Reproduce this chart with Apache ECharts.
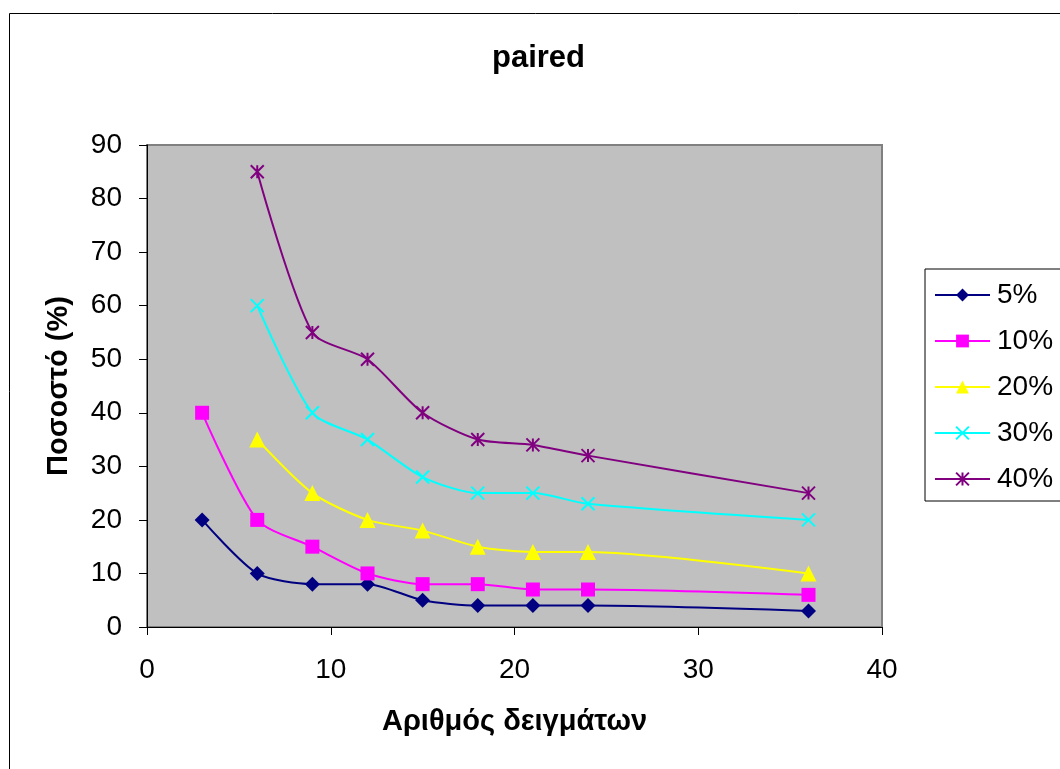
<!DOCTYPE html>
<html>
<head>
<meta charset="utf-8">
<script src="https://cdn.jsdelivr.net/npm/echarts@6/dist/echarts.min.js"></script>
<style>
  html, body { margin: 0; padding: 0; background: #fff; }
  #chart { width: 1060px; height: 769px; }
</style>
</head>
<body>
<div id="chart"></div>
<script>
// Αριθμός δειγμάτων (x)
const sampleSizes = [3, 6, 9, 12, 15, 18, 21, 24, 36];
const seriesNames = ['5%', '10%', '20%', '30%', '40%'];
const values5 = [20, 10, 8, 8, 5, 4, 4, 4, 3];
const values10 = [40, 20, 15, 10, 8, 8, 7, 7, 6];
const values20 = [null, 35, 25, 20, 18, 15, 14, 14, 10];
const values30 = [null, 60, 40, 35, 28, 25, 25, 23, 20];
const values40 = [null, 85, 55, 50, 40, 35, 34, 32, 25];

const FONT = '"Liberation Sans", Arial, sans-serif';

const chart = echarts.init(document.getElementById('chart'), null, { renderer: 'canvas' });

// ζεύγη [x, y], χωρίς κενά
const pairs = vals => sampleSizes.map((x, i) => [x, vals[i]]).filter(p => p[1] != null);

const crossPath = 'path://M0 0L10 10M10 0L0 10';
const starPath = 'path://M0 0L10 10M10 0L0 10M5 0L5 10';

const makeSeries = (name, vals, color, symbol, size, hollow) => ({
  name,
  type: 'line',
  data: pairs(vals),
  smooth: 0.25,
  symbol,
  symbolSize: size,
  showAllSymbol: true,
  lineStyle: { color, width: 2 },
  itemStyle: hollow
    ? { color: 'rgba(0,0,0,0)', borderColor: color, borderWidth: 2 }
    : { color, borderColor: color, borderWidth: 0 },
  emphasis: { disabled: true },
  z: 3
});

const option = {
  animation: false,
  textStyle: { fontFamily: FONT },
  graphic: [{
    type: 'rect',
    shape: { x: 9.5, y: 13.5, width: 1057, height: 800 },
    style: { fill: 'none', stroke: '#000', lineWidth: 1 },
    z: -10
  }],
  title: {
    text: 'paired',
    left: 487,
    top: 38,
    textStyle: { fontFamily: FONT, fontSize: 31, fontWeight: 'bold', color: '#000' }
  },
  grid: {
    left: 147, top: 145, width: 735, height: 482,
    show: true,
    backgroundColor: '#C0C0C0',
    borderColor: '#808080',
    borderWidth: 2
  },
  legend: {
    orient: 'vertical',
    left: 925,
    top: 269,
    padding: [12, 60, 8, 9],
    itemGap: 18,
    itemWidth: 55,
    itemHeight: 16,
    borderColor: '#000',
    borderWidth: 1,
    backgroundColor: '#fff',
    data: seriesNames,
    textStyle: { fontFamily: FONT, fontSize: 28, color: '#000', padding: [0, 0, 0, 2] }
  },
  xAxis: {
    type: 'value',
    min: 0, max: 40, interval: 10,
    name: 'Αριθμός δειγμάτων',
    nameLocation: 'middle',
    nameGap: 80,
    nameTextStyle: { fontFamily: FONT, fontSize: 29, fontWeight: 'bold', color: '#000' },
    axisLine: { show: true, lineStyle: { color: '#000', width: 1 } },
    axisTick: { show: true, length: 8, lineStyle: { color: '#000' } },
    axisLabel: { margin: 29, fontFamily: FONT, fontSize: 28, color: '#000' },
    splitLine: { show: false }
  },
  yAxis: {
    type: 'value',
    min: 0, max: 90, interval: 10,
    name: 'Ποσοστό (%)',
    nameLocation: 'middle',
    nameGap: 74,
    nameTextStyle: { fontFamily: FONT, fontSize: 29, fontWeight: 'bold', color: '#000' },
    axisLine: { show: true, lineStyle: { color: '#000', width: 1 } },
    axisTick: { show: true, length: 8, lineStyle: { color: '#000' } },
    axisLabel: { margin: 25, fontFamily: FONT, fontSize: 28, color: '#000' },
    splitLine: { show: false }
  },
  series: [
    makeSeries('5%', values5, '#000080', 'diamond', 15, false),
    makeSeries('10%', values10, '#FF00FF', 'rect', 14, false),
    makeSeries('20%', values20, '#FFFF00', 'triangle', 16, false),
    makeSeries('30%', values30, '#00FFFF', crossPath, 13, true),
    makeSeries('40%', values40, '#800080', starPath, 13, true)
  ]
};

chart.setOption(option);
</script>
</body>
</html>
